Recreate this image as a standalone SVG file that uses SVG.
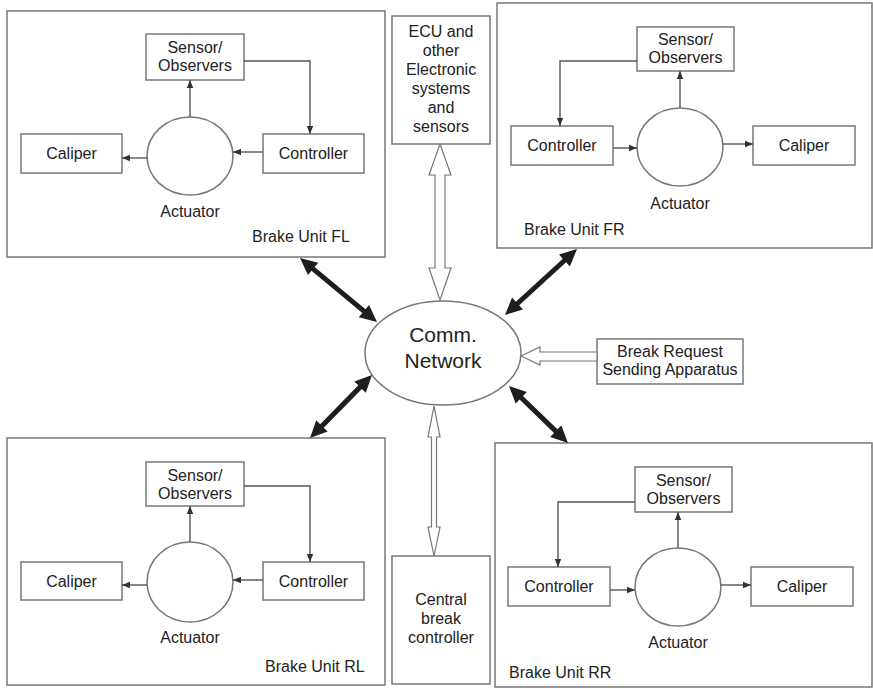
<svg xmlns="http://www.w3.org/2000/svg" width="873" height="689" viewBox="0 0 873 689">
  <defs>
    <style>
      text { font-family: "Liberation Sans", Arial, sans-serif; font-size: 16px; fill: #222; }
      .c { text-anchor: middle; }
      .box { fill: #fff; stroke: #777; stroke-width: 1.5; }
      .unit { fill: none; stroke: #777; stroke-width: 1.5; }
      .act { fill: #fff; stroke: #777; stroke-width: 1.5; }
      .wire { fill: none; stroke: #555; stroke-width: 1.4; marker-end: url(#ah); }
      .bus { fill: #1e1e1e; }
      .hollow { fill: #fff; stroke: #777; stroke-width: 1.2; stroke-linejoin: miter; }
      .big { font-size: 21px; }
    </style>
    <marker id="ah" viewBox="0 0 10 10" refX="10" refY="5" markerWidth="8" markerHeight="8" markerUnits="userSpaceOnUse" orient="auto">
      <path d="M0,1 L10,5 L0,9 Z" fill="#333"/>
    </marker>
  </defs>

  <!-- Brake Unit FL -->
  <g id="unit-fl">
    <rect class="unit" x="7" y="11" width="378" height="246"/>
    <g id="fl-sensor"><rect class="box" x="146" y="34" width="98" height="46"/>
      <text class="c" x="195" y="53">Sensor/</text><text class="c" x="195" y="71">Observers</text></g>
    <g id="fl-caliper"><rect class="box" x="21" y="134" width="101" height="39"/>
      <text class="c" x="71.5" y="159">Caliper</text></g>
    <g id="fl-controller"><rect class="box" x="263" y="134" width="101" height="39"/>
      <text class="c" x="313.5" y="159">Controller</text></g>
    <g id="fl-actuator"><ellipse class="act" cx="190" cy="156" rx="43" ry="39"/>
      <text class="c" x="190" y="217">Actuator</text></g>
    <text x="252" y="242">Brake Unit FL</text>
  </g>

  <!-- Brake Unit FR -->
  <g id="unit-fr">
    <rect class="unit" x="497" y="3" width="375" height="245"/>
    <g id="fr-sensor"><rect class="box" x="637" y="27" width="97" height="44"/>
      <text class="c" x="685.5" y="45">Sensor/</text><text class="c" x="685.5" y="63">Observers</text></g>
    <g id="fr-controller"><rect class="box" x="511" y="126" width="102" height="39"/>
      <text class="c" x="562" y="151">Controller</text></g>
    <g id="fr-caliper"><rect class="box" x="753" y="126" width="102" height="39"/>
      <text class="c" x="804" y="151">Caliper</text></g>
    <g id="fr-actuator"><ellipse class="act" cx="680" cy="147" rx="43" ry="39"/>
      <text class="c" x="680" y="209">Actuator</text></g>
    <text x="524" y="235">Brake Unit FR</text>
  </g>

  <!-- Brake Unit RL -->
  <g id="unit-rl">
    <rect class="unit" x="7" y="438" width="378" height="247"/>
    <g id="rl-sensor"><rect class="box" x="146" y="462" width="98" height="44"/>
      <text class="c" x="195" y="481">Sensor/</text><text class="c" x="195" y="499">Observers</text></g>
    <g id="rl-caliper"><rect class="box" x="21" y="562" width="101" height="38"/>
      <text class="c" x="71.5" y="587">Caliper</text></g>
    <g id="rl-controller"><rect class="box" x="263" y="562" width="101" height="38"/>
      <text class="c" x="313.5" y="587">Controller</text></g>
    <g id="rl-actuator"><ellipse class="act" cx="190" cy="582" rx="43" ry="40"/>
      <text class="c" x="190" y="643">Actuator</text></g>
    <text x="265" y="672">Brake Unit RL</text>
  </g>

  <!-- Brake Unit RR -->
  <g id="unit-rr">
    <rect class="unit" x="495" y="443" width="377" height="244"/>
    <g id="rr-sensor"><rect class="box" x="635" y="467" width="97" height="45"/>
      <text class="c" x="683.5" y="486">Sensor/</text><text class="c" x="683.5" y="504">Observers</text></g>
    <g id="rr-controller"><rect class="box" x="508" y="567" width="102" height="39"/>
      <text class="c" x="559" y="592">Controller</text></g>
    <g id="rr-caliper"><rect class="box" x="751" y="567" width="102" height="39"/>
      <text class="c" x="802" y="592">Caliper</text></g>
    <g id="rr-actuator"><ellipse class="act" cx="678" cy="587" rx="43" ry="39"/>
      <text class="c" x="678" y="648">Actuator</text></g>
    <text x="509" y="678">Brake Unit RR</text>
  </g>

  <!-- ECU and other electronics -->
  <g id="ecu">
    <rect class="box" x="392" y="16" width="98" height="128"/>
    <text class="c" x="441" y="37">ECU and</text>
    <text class="c" x="441" y="56">other</text>
    <text class="c" x="441" y="75">Electronic</text>
    <text class="c" x="441" y="94">systems</text>
    <text class="c" x="441" y="113">and</text>
    <text class="c" x="441" y="132">sensors</text>
  </g>

  <!-- Central break controller -->
  <g id="central">
    <rect class="box" x="392" y="556" width="98" height="128"/>
    <text class="c" x="441" y="605">Central</text>
    <text class="c" x="441" y="624">break</text>
    <text class="c" x="441" y="643">controller</text>
  </g>

  <!-- Break request sending apparatus -->
  <g id="request">
    <rect class="box" x="597" y="339" width="146" height="45"/>
    <text class="c" x="670" y="357">Break Request</text>
    <text class="c" x="670" y="375">Sending Apparatus</text>
  </g>

  <!-- Communication network -->
  <g id="network">
    <ellipse class="act" cx="443" cy="353" rx="78" ry="52"/>
    <text class="c big" x="443" y="342">Comm.</text>
    <text class="c big" x="443" y="368">Network</text>
  </g>

  <!-- Connectors -->
  <g id="connectors">
    <!-- inner loops of each brake unit -->
    <path class="wire" d="M244,61 H310 V134"/>
    <path class="wire" d="M263,152 H233"/>
    <path class="wire" d="M190,117 V80"/>
    <path class="wire" d="M147,158 H122"/>

    <path class="wire" d="M637,61 H560 V126"/>
    <path class="wire" d="M613,148 H637"/>
    <path class="wire" d="M680,108 V71"/>
    <path class="wire" d="M723,144 H753"/>

    <path class="wire" d="M244,486 H310 V562"/>
    <path class="wire" d="M263,580 H233"/>
    <path class="wire" d="M190,542 V506"/>
    <path class="wire" d="M147,585 H122"/>

    <path class="wire" d="M635,502 H558 V567"/>
    <path class="wire" d="M610,590 H635"/>
    <path class="wire" d="M678,548 V512"/>
    <path class="wire" d="M721,585 H751"/>

    <!-- network links to brake units -->
    <path class="bus" transform="translate(300,258) rotate(39.7)" d="M0,0 L17,-8 L17,-2.5 L83.1,-2.5 L83.1,-8 L100.1,0 L83.1,8 L83.1,2.5 L17,2.5 L17,8 Z"/>
    <path class="bus" transform="translate(577,249) rotate(137.5)" d="M0,0 L17,-8 L17,-2.5 L80.7,-2.5 L80.7,-8 L97.7,0 L80.7,8 L80.7,2.5 L17,2.5 L17,8 Z"/>
    <path class="bus" transform="translate(372,375) rotate(134.5)" d="M0,0 L17,-8 L17,-2.5 L71.4,-2.5 L71.4,-8 L88.4,0 L71.4,8 L71.4,2.5 L17,2.5 L17,8 Z"/>
    <path class="bus" transform="translate(509,386) rotate(44)" d="M0,0 L17,-8 L17,-2.5 L65,-2.5 L65,-8 L82,0 L65,8 L65,2.5 L17,2.5 L17,8 Z"/>

    <!-- hollow links -->
    <path class="hollow" d="M440,144 L451,175 L445,175 L445,268 L451,268 L440,300 L429,268 L435,268 L435,175 L429,175 Z"/>
    <path class="hollow" d="M434,406 L440,437 L436.5,437 L436.5,527 L440,527 L434,556 L428,527 L431.5,527 L431.5,437 L428,437 Z"/>
    <path class="hollow" d="M521,356 L540,347 L540,352 L597,352 L597,361 L540,361 L540,365 Z"/>
  </g>
</svg>
